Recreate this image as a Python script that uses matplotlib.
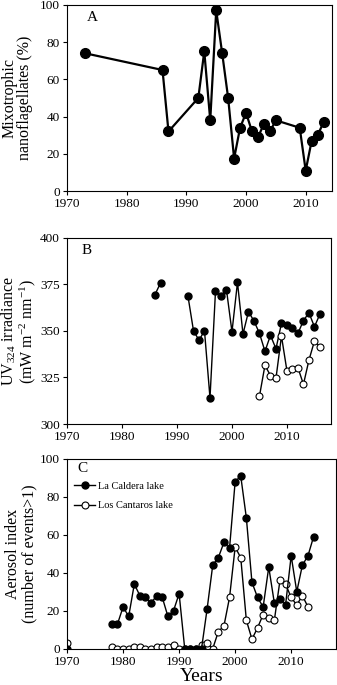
import numpy as np
import matplotlib
matplotlib.use('Agg')
import matplotlib.pyplot as plt

plt.rcParams['font.family'] = ['Liberation Serif', 'DejaVu Serif']
plt.rcParams['mathtext.fontset'] = 'custom'
plt.rcParams['mathtext.rm'] = 'Liberation Serif'
plt.rcParams['mathtext.it'] = 'Liberation Serif:italic'

# --- Panel A: mixotrophic nanoflagellates (%) ---
years_a = [1973, 1986, 1987, 1992, 1993, 1994, 1995, 1996, 1997, 1998, 1999,
           2000, 2001, 2002, 2003, 2004, 2005, 2009, 2010, 2011, 2012, 2013]
mixo = [74, 65, 32, 50, 75, 38, 97, 74, 50, 17.5, 34,
        42, 32, 29, 36, 32, 38, 34, 11, 27, 30, 37]

# --- Panel B: UV324 irradiance ---
years_b_caldera = [1986, 1987, 1988, 1992, 1993, 1994, 1995, 1996, 1997, 1998, 1999,
                   2000, 2001, 2002, 2003, 2004, 2005, 2006, 2007, 2008, 2009,
                   2010, 2011, 2012, 2013, 2014, 2015, 2016]
uv_caldera = [369.5, 375.7, np.nan, 368.5, 350, 345, 350, 314, 371.3, 368.8, 372,
              349.5, 376, 348.3, 360.3, 355.3, 348.7, 339, 347.6, 340.4, 354,
              353, 351.4, 348.7, 355.5, 359.7, 352.2, 359]
years_b_cantaros = [2005, 2006, 2007, 2008, 2009, 2010, 2011, 2012, 2013, 2014, 2015, 2016]
uv_cantaros = [315, 331.5, 326, 324.5, 347.2, 328.5, 329.5, 330.2, 321.3, 334.3, 344.5, 341.5]

# --- Panel C: aerosol index (number of events > 1) ---
years_c = [1970, 1971] + list(range(1978, 2015))
aer_caldera = [0, np.nan,
               13, 13, 22, 17, 34, 28, 27, 24, 28, 27, 17, 20, 29,
               0, 0, 0, 0, 21, 44, 48, 56, 53, 88, 91, 69, 35, 27, 22,
               43, 24, 26, 23, 49, 30, 44, 49, 59]
aer_cantaros = [3, np.nan,
                1, 0, 0, 0, 1, 1, 0, 0, 1, 1, 1, 2, 0,
                0, 0, 0, 2, 3, 0, 9, 12, 27, 53.5, 48, 15, 5, 11, 18,
                16, 15, 36, 34, 27, 23, 28, 22, np.nan]

fig = plt.figure(figsize=(3.37, 6.85), dpi=100)
ax1 = fig.add_axes([0.199, 0.721, 0.786, 0.272])
ax2 = fig.add_axes([0.199, 0.381, 0.783, 0.272])
ax3 = fig.add_axes([0.199, 0.053, 0.798, 0.277])

tick_fs = 9.5
label_fs = 11.5

for ax in (ax1, ax2, ax3):
    ax.set_xticks([1970, 1980, 1990, 2000, 2010])
    ax.tick_params(direction='out', length=3, width=0.8, labelsize=tick_fs, pad=2)
    for sp in ax.spines.values():
        sp.set_linewidth(0.8)

# Panel A
ax1.plot(years_a, mixo, '-o', color='black', lw=1.6, ms=7, mfc='black', mec='black')
ax1.set_xlim(1970, 2014.4)
ax1.set_ylim(0, 100)
ax1.set_yticks(np.arange(0, 101, 20))
ax1.set_ylabel('Mixotrophic\nnanoflagellates (%)', fontsize=label_fs, linespacing=1.0)
ax1.yaxis.set_label_coords(-0.128, 0.5)
ax1.text(0.075, 0.93, 'A', transform=ax1.transAxes, fontsize=11, va='center', ha='left')

# Panel B
ax2.plot(years_b_caldera, uv_caldera, '-o', color='black', lw=1.0, ms=5,
         mfc='black', mec='black')
ax2.plot(years_b_cantaros, uv_cantaros, '-o', color='black', lw=1.0, ms=5,
         mfc='white', mec='black', mew=0.8)
ax2.set_xlim(1970, 2018)
ax2.set_ylim(300, 400)
ax2.set_yticks([300, 325, 350, 375, 400])
ax2.set_ylabel('UV$_{324}$ irradiance\n(mW m$^{-2}$ nm$^{-1}$)', fontsize=label_fs,
               linespacing=0.95)
ax2.yaxis.set_label_coords(-0.11, 0.5)
ax2.text(0.055, 0.93, 'B', transform=ax2.transAxes, fontsize=11, va='center', ha='left')

# Panel C
ax3.plot(years_c, aer_cantaros, '-o', color='black', lw=1.0, ms=5,
         mfc='white', mec='black', mew=0.8, label='Los Cantaros lake', zorder=2)
ax3.plot(years_c, aer_caldera, '-o', color='black', lw=1.0, ms=5,
         mfc='black', mec='black', label='La Caldera lake', zorder=3)
ax3.set_xlim(1970, 2018)
ax3.set_ylim(0, 100)
ax3.set_yticks(np.arange(0, 101, 20))
ax3.set_ylabel('Aerosol index\n(number of events>1)', fontsize=label_fs, linespacing=1.0)
ax3.yaxis.set_label_coords(-0.112, 0.5)
ax3.set_xlabel('Years', fontsize=14, labelpad=0)
ax3.text(0.04, 0.95, 'C', transform=ax3.transAxes, fontsize=11, va='center', ha='left')
handles, labels = ax3.get_legend_handles_labels()
ax3.legend(handles[::-1], labels[::-1], loc='upper left', bbox_to_anchor=(0.0, 0.92),
           frameon=False, fontsize=7.5, handlelength=2.0, handletextpad=0.3,
           labelspacing=1.0, borderaxespad=0.3)

fig.savefig('out.png', dpi=100)
